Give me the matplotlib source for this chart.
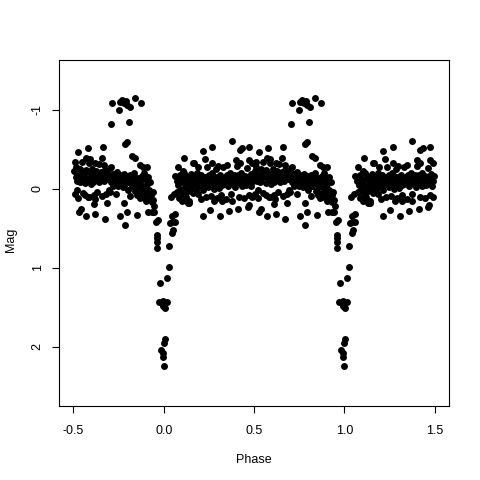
import numpy as np
import matplotlib
matplotlib.use('Agg')
import matplotlib.pyplot as plt

plt.rcParams['font.family'] = ['Liberation Sans', 'DejaVu Sans']

# one cycle of the folded light curve, phase -0.5 .. 0.5 (plotted twice)

# the bright hump near phase -0.25
hump = [(-0.293, -0.82), (-0.287, -1.08), (-0.249, -1.00), (-0.243, -1.10),
        (-0.232, -1.12), (-0.221, -1.09), (-0.210, -1.11), (-0.204, -1.06),
        (-0.188, -1.04), (-0.193, -0.85), (-0.204, -0.59), (-0.215, -0.57),
        (-0.160, -1.15), (-0.127, -1.08), (-0.177, -0.41), (-0.160, -0.39)]

# primary eclipse
eclipse = [(-0.045, 0.42), (-0.039, 0.58), (-0.039, 0.62), (-0.039, 0.68),
           (-0.039, 0.75), (-0.022, 1.19), (-0.028, 1.43), (-0.006, 1.42),
           (0.006, 1.51), (-0.006, 1.49), (0.017, 1.43), (0.006, 1.90),
           (0.000, 1.95), (-0.017, 2.04), (-0.006, 2.08), (-0.006, 2.13),
           (0.000, 2.24), (0.028, 0.72), (0.028, 0.99), (0.017, 1.13),
           (0.050, 0.52), (0.044, 0.56), (0.044, 0.42), (0.060, 0.42),
           (0.033, 0.43), (0.044, 0.35), (0.060, 0.32), (-0.033, 0.39),
           (-0.055, 0.30), (-0.066, 0.30), (-0.088, 0.29)]

# out-of-eclipse points before the eclipse
pre_band = [
    (-0.497, -0.22), (-0.493, 0.07), (-0.485, -0.15),
    (-0.488, -0.28), (-0.481, -0.10), (-0.476, 0.12),
    (-0.471, -0.18), (-0.466, -0.08), (-0.462, -0.25),
    (-0.459, -0.12), (-0.452, -0.34), (-0.449, 0.05), (-0.445, -0.20),
    (-0.440, -0.16), (-0.436, -0.07), (-0.431, -0.24),
    (-0.428, -0.21), (-0.423, -0.11), (-0.418, 0.10), (-0.414, -0.33),
    (-0.409, -0.14), (-0.405, -0.06), (-0.401, -0.19),
    (-0.396, -0.25), (-0.392, -0.09), (-0.387, -0.17), (-0.383, 0.13),
    (-0.378, -0.13), (-0.374, -0.22), (-0.369, 0.04),
    (-0.364, -0.18), (-0.360, -0.31), (-0.356, -0.08), (-0.351, -0.12),
    (-0.347, -0.21), (-0.342, 0.09), (-0.338, -0.15),
    (-0.333, -0.10), (-0.328, -0.24), (-0.324, -0.17), (-0.319, 0.06),
    (-0.314, -0.20), (-0.310, -0.12), (-0.305, 0.02),
    (-0.301, -0.16), (-0.297, -0.26), (-0.292, -0.08),
    (-0.288, -0.13), (-0.283, -0.19), (-0.279, -0.04),
    (-0.274, -0.09), (-0.270, -0.17), (-0.266, -0.11),
    (-0.261, -0.21), (-0.257, -0.14), (-0.252, -0.03),
    (-0.248, -0.12), (-0.244, -0.18), (-0.239, -0.07),
    (-0.235, -0.15), (-0.230, -0.10), (-0.226, -0.02),
    (-0.222, -0.19), (-0.217, -0.13), (-0.213, -0.06),
    (-0.208, -0.11), (-0.204, -0.16), (-0.199, 0.02),
    (-0.195, -0.14), (-0.190, -0.08), (-0.186, -0.18),
    (-0.182, -0.12), (-0.177, -0.04), (-0.173, -0.09),
    (-0.168, -0.15), (-0.164, -0.20), (-0.159, 0.03),
    (-0.155, -0.11), (-0.151, -0.06), (-0.147, 0.08),
    (-0.143, -0.14), (-0.139, -0.02), (-0.134, 0.12),
    (-0.130, -0.09), (-0.126, 0.05), (-0.122, -0.16),
    (-0.118, -0.04), (-0.114, 0.10), (-0.110, -0.20),
    (-0.106, 0.02), (-0.102, -0.12), (-0.098, 0.15),
    (-0.094, -0.06), (-0.090, 0.06), (-0.086, -0.15),
    (-0.082, 0.01), (-0.078, 0.11), (-0.074, -0.09),
    (-0.070, 0.08), (-0.066, 0.17), (-0.062, 0.04),
    (-0.058, 0.14), (-0.054, 0.22),
    # scattered points
    (-0.475, -0.46), (-0.420, -0.51), (-0.430, -0.39), (-0.410, -0.38),
    (-0.343, -0.39), (-0.337, -0.53), (-0.490, -0.34), (-0.380, -0.33),
    (-0.330, -0.30), (-0.290, -0.27), (-0.133, -0.30), (-0.116, -0.28),
    (-0.094, -0.27), (-0.480, 0.01), (-0.436, 0.08), (-0.414, 0.10),
    (-0.387, 0.08), (-0.387, 0.19), (-0.315, 0.18), (-0.220, 0.18),
    (-0.470, 0.29), (-0.460, 0.25), (-0.430, 0.34), (-0.380, 0.32),
    (-0.326, 0.38), (-0.243, 0.34), (-0.215, 0.46), (-0.204, 0.29),
    (-0.150, 0.33), (-0.262, 0.06), (-0.185, 0.09), (-0.300, 0.04)]

# out-of-eclipse points after the eclipse
post_band = [
    (0.072, -0.10), (0.076, 0.04),
    (0.081, -0.05), (0.085, 0.12), (0.089, -0.18),
    (0.093, 0.01), (0.097, -0.12), (0.101, 0.15),
    (0.105, -0.08), (0.109, 0.07), (0.113, -0.20),
    (0.117, -0.02), (0.121, 0.10), (0.125, -0.14),
    (0.129, -0.15), (0.133, 0.03), (0.137, -0.06), (0.141, 0.16),
    (0.145, -0.09), (0.149, 0.00), (0.153, -0.19),
    (0.157, -0.12), (0.161, 0.05), (0.165, -0.04),
    (0.169, -0.16), (0.173, -0.07), (0.177, 0.02),
    (0.181, -0.10), (0.185, -0.20), (0.189, 0.06), (0.193, -0.03),
    (0.197, -0.13), (0.201, -0.05), (0.205, 0.13),
    (0.209, -0.18), (0.213, -0.08), (0.217, 0.01), (0.221, -0.12),
    (0.225, -0.06), (0.229, -0.15), (0.233, 0.11), (0.237, -0.28),
    (0.241, -0.11), (0.245, -0.02), (0.249, -0.17),
    (0.253, -0.14), (0.257, -0.07), (0.261, 0.09), (0.265, -0.20),
    (0.269, -0.09), (0.273, -0.16), (0.277, 0.00),
    (0.281, -0.12), (0.285, -0.04), (0.289, -0.25), (0.293, 0.12),
    (0.297, -0.15), (0.301, -0.08), (0.305, -0.01),
    (0.309, -0.10), (0.313, -0.18), (0.317, 0.08), (0.321, -0.05),
    (0.325, -0.13), (0.329, -0.27), (0.333, -0.06),
    (0.337, -0.08), (0.341, -0.15), (0.345, 0.13), (0.349, -0.11),
    (0.353, -0.17), (0.357, -0.04), (0.361, -0.12),
    (0.365, -0.09), (0.369, -0.20), (0.373, 0.07), (0.377, -0.14),
    (0.381, -0.12), (0.385, -0.06), (0.389, -0.18),
    (0.393, -0.15), (0.397, -0.02), (0.401, -0.09), (0.405, -0.29),
    (0.409, -0.11), (0.413, -0.17), (0.417, 0.10),
    (0.421, -0.07), (0.425, -0.14), (0.429, -0.20), (0.433, -0.03),
    (0.437, -0.13), (0.441, -0.09), (0.445, 0.12),
    (0.449, -0.16), (0.453, -0.05), (0.457, -0.11), (0.461, -0.26),
    (0.465, -0.08), (0.469, -0.14), (0.473, 0.08),
    (0.477, -0.12), (0.481, -0.19), (0.485, -0.04), (0.489, 0.11),
    (0.493, -0.10), (0.497, -0.16),
    # scattered points
    (0.110, -0.39), (0.077, -0.27), (0.105, -0.23), (0.160, -0.32),
    (0.060, -0.16), (0.166, -0.33), (0.215, -0.48), (0.227, -0.38),
    (0.270, -0.53), (0.376, -0.61), (0.420, -0.49), (0.436, -0.52),
    (0.475, -0.53), (0.270, -0.33), (0.350, -0.30), (0.400, -0.37),
    (0.420, -0.33), (0.475, -0.37), (0.490, -0.33), (0.190, -0.27),
    (0.300, -0.29), (0.280, 0.16), (0.320, 0.15), (0.376, 0.15),
    (0.254, 0.27), (0.215, 0.35), (0.310, 0.34), (0.360, 0.28),
    (0.414, 0.25), (0.464, 0.23), (0.470, 0.20), (0.140, 0.18),
    (0.133, 0.18), (0.039, 0.10), (0.055, 0.06)]

pts = np.array(hump + eclipse + pre_band + post_band)
phase = pts[:, 0]
mag = pts[:, 1]

fig = plt.figure(figsize=(4.8, 4.8), dpi=100)
ax = fig.add_axes([59 / 480, 74 / 480, 390 / 480, 346 / 480])

# folded curve drawn over two cycles
ax.plot(np.concatenate([phase, phase + 1]), np.concatenate([mag, mag]),
        'o', color='black', markersize=5.0, markeredgewidth=0)

ax.set_xlim(-0.58, 1.58)
ax.set_ylim(2.75, -1.63)
ax.set_xticks([-0.5, 0.0, 0.5, 1.0, 1.5])
ax.set_xticklabels(['-0.5', '0.0', '0.5', '1.0', '1.5'])
ax.set_yticks([-1, 0, 1, 2])
ax.set_yticklabels(['-1', '0', '1', '2'], rotation=90, va='center')

for s in ax.spines.values():
    s.set_linewidth(0.8)
ax.tick_params(direction='out', length=5, width=0.8, labelsize=9)
ax.tick_params(axis='x', pad=9)
ax.tick_params(axis='y', pad=6)

fig.text(254 / 480, 1 - 460 / 480, 'Phase', fontsize=9,
         ha='center', va='center')
fig.text(11 / 480, 1 - 240 / 480, 'Mag', fontsize=9, rotation=90,
         ha='center', va='center')

fig.savefig('out.png', dpi=100)
